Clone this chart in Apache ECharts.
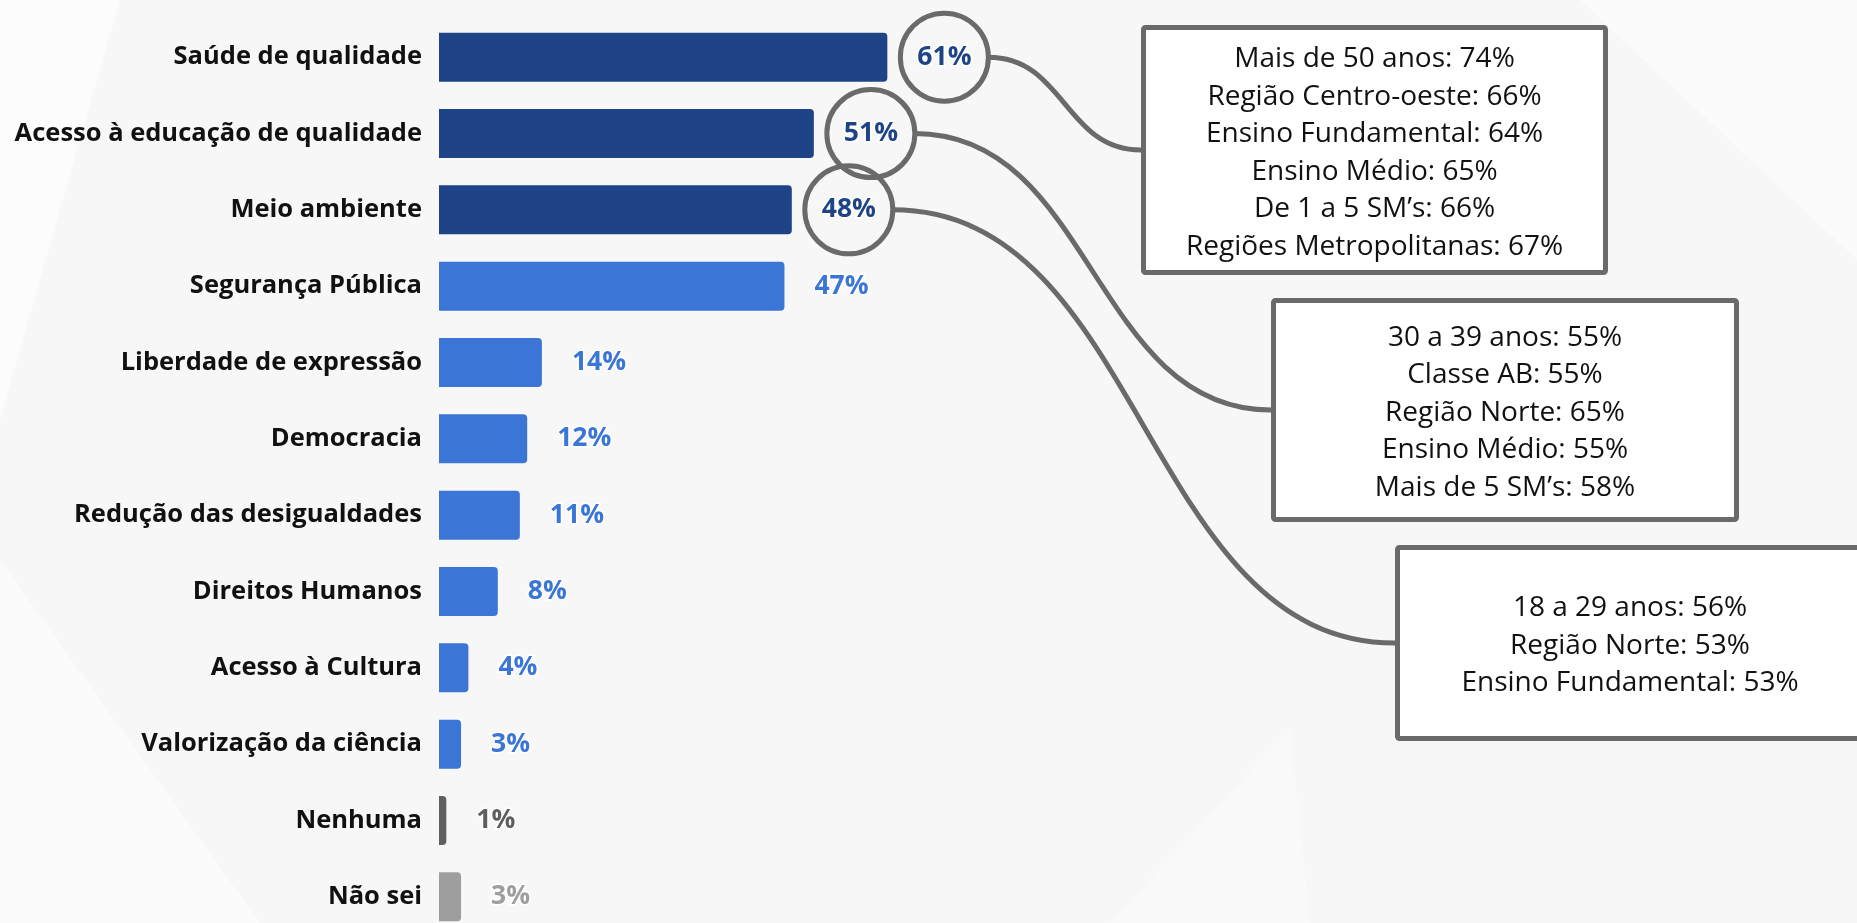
<!DOCTYPE html>
<html>
<head>
<meta charset="utf-8">
<script src="https://cdn.jsdelivr.net/npm/echarts@6/dist/echarts.min.js"></script>
<style>
html,body{margin:0;padding:0;background:#f7f7f7;}
#chart{width:1857px;height:923px;}
</style>
</head>
<body>
<div id="chart"></div>
<script>
// ---------- DATA ----------
const categories = [
  'Saúde de qualidade',
  'Acesso à educação de qualidade',
  'Meio ambiente',
  'Segurança Pública',
  'Liberdade de expressão',
  'Democracia',
  'Redução das desigualdades',
  'Direitos Humanos',
  'Acesso à Cultura',
  'Valorização da ciência',
  'Nenhuma',
  'Não sei'
];
const values = [61, 51, 48, 47, 14, 12, 11, 8, 4, 3, 1, 3];
const groups = ['destaque','destaque','destaque','tema','tema','tema','tema','tema','tema','tema','nenhuma','naosei'];

const boxLinesSaude = [
  'Mais de 50 anos: 74%',
  'Região Centro-oeste: 66%',
  'Ensino Fundamental: 64%',
  'Ensino Médio: 65%',
  'De 1 a 5 SM’s: 66%',
  'Regiões Metropolitanas: 67%'
];
const boxLinesEducacao = [
  '30 a 39 anos: 55%',
  'Classe AB: 55%',
  'Região Norte: 65%',
  'Ensino Médio: 55%',
  'Mais de 5 SM’s: 58%'
];
const boxLinesMeioAmbiente = [
  '18 a 29 anos: 56%',
  'Região Norte: 53%',
  'Ensino Fundamental: 53%'
];

// ---------- STYLE / LAYOUT ----------
const groupColors = { destaque: '#1e4487', tema: '#3b76d7', nenhuma: '#5f5f5f', naosei: '#9e9e9e' };
const FONT = '"Open Sans", Lato, sans-serif';
const RING = '#6a6a6a';

const callouts = [
  { bar: 0, lines: boxLinesSaude,        rect: { x: 1143.5, y: 27.5,  width: 462, height: 245 } },
  { bar: 1, lines: boxLinesEducacao,     rect: { x: 1273.5, y: 300.5, width: 463, height: 219 } },
  { bar: 2, lines: boxLinesMeioAmbiente, rect: { x: 1397.5, y: 547.5, width: 465, height: 191 } }
];

const chart = echarts.init(document.getElementById('chart'), null, { renderer: 'canvas' });

const option = {
  backgroundColor: '#f7f7f7',
  animation: false,
  grid: { left: 439, width: 735, top: 19, height: 916, containLabel: false, outerBoundsMode: 'none' },
  xAxis: { type: 'value', min: 0, max: 100, show: false },
  yAxis: {
    type: 'category', inverse: true, data: categories,
    axisLine: { show: false }, axisTick: { show: false }, splitLine: { show: false },
    axisLabel: { margin: 17, color: '#111111', fontFamily: FONT, fontWeight: 'bold', fontSize: 25.5 }
  },
  series: [{
    type: 'bar',
    barWidth: 49,
    itemStyle: { borderRadius: [0, 4, 4, 0] },
    label: {
      show: true, position: 'right', distance: 30, formatter: '{c}%',
      fontFamily: FONT, fontWeight: 'bold', fontSize: 26.5,
      textBorderColor: '#ffffff', textBorderWidth: 3
    },
    data: values.map((v, i) => ({
      value: v,
      itemStyle: { color: groupColors[groups[i]] },
      label: { color: groupColors[groups[i]] }
    }))
  }]
};
chart.setOption(option);

// ---------- ANNOTATIONS (positions derived from the axes) ----------
const bgShapes = [
  { type: 'polygon', silent: true, z: -10, shape: { points: [[0,0],[120,0],[0,420]] }, style: { fill: '#fcfcfc' } },
  { type: 'polygon', silent: true, z: -10, shape: { points: [[0,560],[260,923],[0,923]] }, style: { fill: '#fbfbfb' } },
  { type: 'polygon', silent: true, z: -10, shape: { points: [[1580,0],[1857,0],[1857,260]] }, style: { fill: '#fbfbfb' } },
  { type: 'polygon', silent: true, z: -10, shape: { points: [[1290,728],[1310,923],[1110,923]] }, style: { fill: '#f9f9f9' } }
];

const elements = bgShapes.slice();
const RING_OFFSET = 57, RING_R = 44;
callouts.forEach((c) => {
  const end = chart.convertToPixel({ seriesIndex: 0 }, [values[c.bar], c.bar]);
  const cx = end[0] + RING_OFFSET, cy = end[1];
  elements.push({
    type: 'circle', silent: true, z: 50,
    shape: { cx: cx, cy: cy, r: RING_R },
    style: { fill: 'none', stroke: RING, lineWidth: 5 }
  });
  const x1 = cx + RING_R, y1 = cy;
  const x2 = c.rect.x - 2.5, y2 = c.rect.y + c.rect.height / 2;
  const mx = (x1 + x2) / 2;
  elements.push({
    type: 'bezierCurve', silent: true, z: 40,
    shape: { x1: x1, y1: y1, cpx1: mx, cpy1: y1, cpx2: mx, cpy2: y2, x2: x2, y2: y2 },
    style: { stroke: RING, lineWidth: 5, fill: 'none' }
  });
  elements.push({
    type: 'rect', silent: true, z: 45,
    shape: Object.assign({ r: 2 }, c.rect),
    style: { fill: '#ffffff', stroke: RING, lineWidth: 5 }
  });
  elements.push({
    type: 'text', silent: true, z: 46,
    x: c.rect.x + c.rect.width / 2, y: c.rect.y + c.rect.height / 2 + 3,
    style: {
      text: c.lines.join('\n'), fill: '#111111',
      fontFamily: FONT, fontSize: 28, lineHeight: 37.5,
      align: 'center', verticalAlign: 'middle'
    }
  });
});
chart.setOption({ graphic: { elements: elements } });
</script>
</body>
</html>
